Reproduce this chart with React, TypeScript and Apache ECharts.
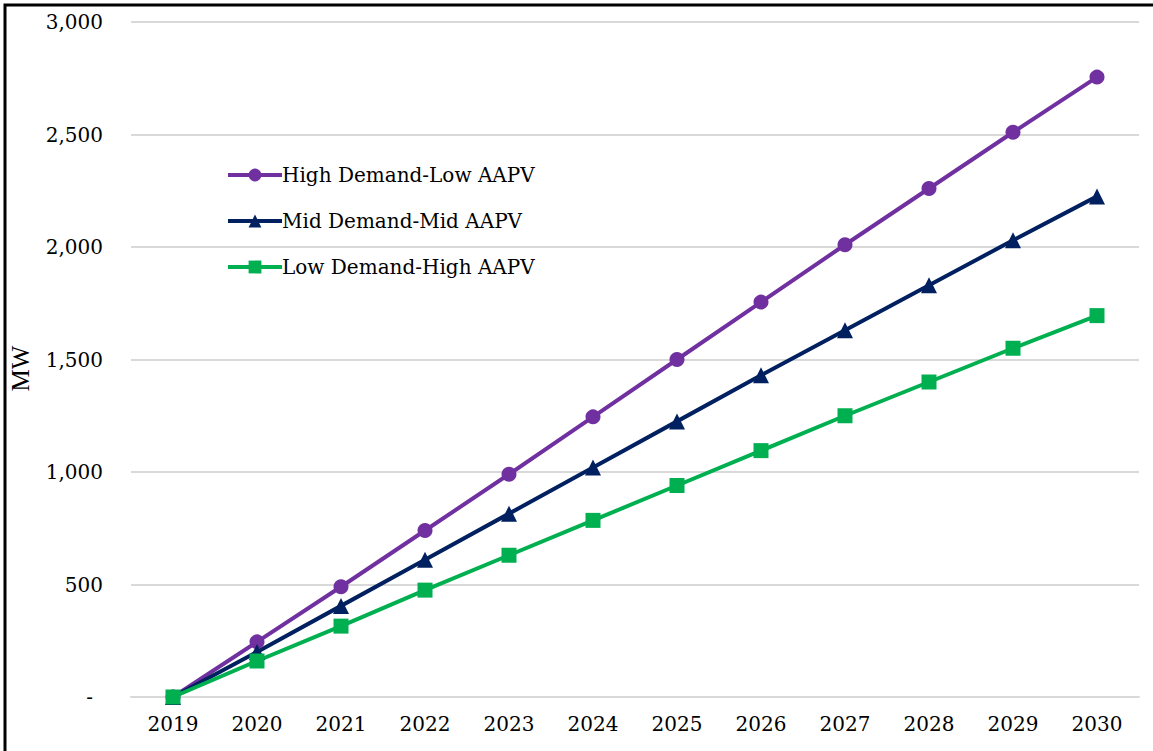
import React, { useEffect, useRef } from "react";
import * as echarts from "echarts";

const years = ["2019", "2020", "2021", "2022", "2023", "2024", "2025", "2026", "2027", "2028", "2029", "2030"];
const highDemandLowAAPV = [0, 245, 490, 740, 990, 1245, 1500, 1755, 2010, 2260, 2510, 2755];
const midDemandMidAAPV = [0, 200, 405, 610, 815, 1020, 1225, 1430, 1630, 1830, 2030, 2225];
const lowDemandHighAAPV = [0, 160, 315, 475, 630, 785, 940, 1095, 1250, 1400, 1550, 1695];

const seriesNames = ["High Demand-Low AAPV", "Mid Demand-Mid AAPV", "Low Demand-High AAPV"];
const yAxisName = "MW";

export default function App() {
  const ref = useRef<HTMLDivElement>(null);
  useEffect(() => {
    if (!ref.current) return;
    const chart = echarts.init(ref.current, undefined, { renderer: "svg" });
    const font = "DejaVu Serif";
    const mk = (name: string, data: number[], color: string, symbol: string, size: number) => ({
      name,
      type: "line",
      data,
      symbol,
      symbolSize: size,
      showAllSymbol: true,
      lineStyle: { color, width: 4 },
      itemStyle: { color },
    });
    chart.setOption({
      animation: false,
      backgroundColor: "#ffffff",
      grid: { left: 128, right: 14, top: 22, bottom: 54, containLabel: false },
      legend: {
        orient: "vertical",
        left: 221,
        top: 160,
        itemWidth: 54,
        itemHeight: 16,
        itemGap: 26,
        lineStyle: { width: 4 },
        textStyle: { fontFamily: font, fontSize: 20, color: "#000", lineHeight: 20, padding: [0, 0, 0, -5] },
        data: seriesNames,
      },
      xAxis: {
        type: "category",
        data: years,
        boundaryGap: true,
        axisLine: { show: true, lineStyle: { color: "#d9d9d9", width: 2 } },
        axisTick: { show: false },
        axisLabel: { fontFamily: font, fontSize: 20, color: "#000", margin: 17 },
      },
      yAxis: {
        type: "value",
        min: 0,
        max: 3000,
        interval: 500,
        name: yAxisName,
        nameLocation: "middle",
        nameGap: 98,
        nameTextStyle: { fontFamily: "Liberation Serif", fontSize: 25, color: "#000", padding: [0, 0, 0, -18] },
        axisLine: { show: false },
        axisTick: { show: false },
        splitLine: { lineStyle: { color: "#d9d9d9", width: 2 } },
        axisLabel: {
          fontFamily: font,
          fontSize: 20,
          color: "#000",
          margin: 28,
          formatter: (v: number) => (v === 0 ? "{d|-}" : v.toLocaleString("en-US")),
          rich: { d: { fontFamily: font, fontSize: 20, color: "#000", padding: [0, 10, 0, 0] } },
        },
      },
      series: [
        mk(seriesNames[0], highDemandLowAAPV, "#7030A0", "circle", 15),
        mk(seriesNames[1], midDemandMidAAPV, "#002060", "triangle", 16),
        mk(seriesNames[2], lowDemandHighAAPV, "#00B050", "rect", 15),
      ],
      graphic: [
        {
          type: "rect",
          shape: { x: 5, y: 5, width: 1300, height: 900 },
          style: { fill: "none", stroke: "#000", lineWidth: 3 },
          silent: true,
          z: 100,
        },
      ],
    });
    return () => chart.dispose();
  }, []);
  return <div ref={ref} style={{ position: "fixed", left: 0, top: 0, width: 1153, height: 751 }} />;
}
